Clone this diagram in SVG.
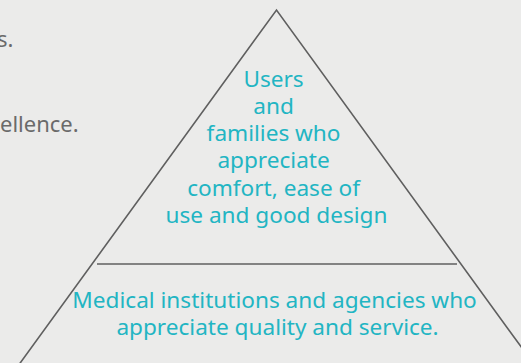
<svg xmlns="http://www.w3.org/2000/svg" width="521" height="363" viewBox="0 0 521 363">
  <style>
    .side { font-family: "Noto Sans", "Open Sans", sans-serif; font-size: 22px; fill: #6a6a6a; }
    .tier { font-family: "Noto Sans", "Open Sans", sans-serif; font-size: 22.6px; fill: #22b5c3; text-anchor: middle; }
    .edge { stroke: #5f5f5f; stroke-width: 1.6; fill: none; }
  </style>
  <rect width="521" height="363" fill="#ebebea"/>

  <!-- running text cut by the left margin -->
  <g id="side-text">
    <text class="side" x="-3" y="47">s.</text>
    <text class="side" x="0" y="132">ellence.</text>
  </g>

  <!-- pyramid outline and tier divider -->
  <g id="connectors">
    <polyline class="edge" points="18,366 276.5,10 535,366"/>
    <line class="edge" x1="97" y1="264" x2="457" y2="264"/>
  </g>

  <g id="tier-top">
    <text class="tier">
      <tspan x="276.5" y="87">Users</tspan>
      <tspan x="276.5" y="113.5">and</tspan>
      <tspan x="276.5" y="140.5">families who</tspan>
      <tspan x="276.5" y="168">appreciate</tspan>
      <tspan x="276.5" y="196">comfort, ease of</tspan>
      <tspan x="276.5" y="223">use and good design</tspan>
    </text>
  </g>

  <g id="tier-bottom">
    <text class="tier">
      <tspan x="277.5" y="308">Medical institutions and agencies who</tspan>
      <tspan x="277.5" y="335">appreciate quality and service.</tspan>
    </text>
  </g>
</svg>
